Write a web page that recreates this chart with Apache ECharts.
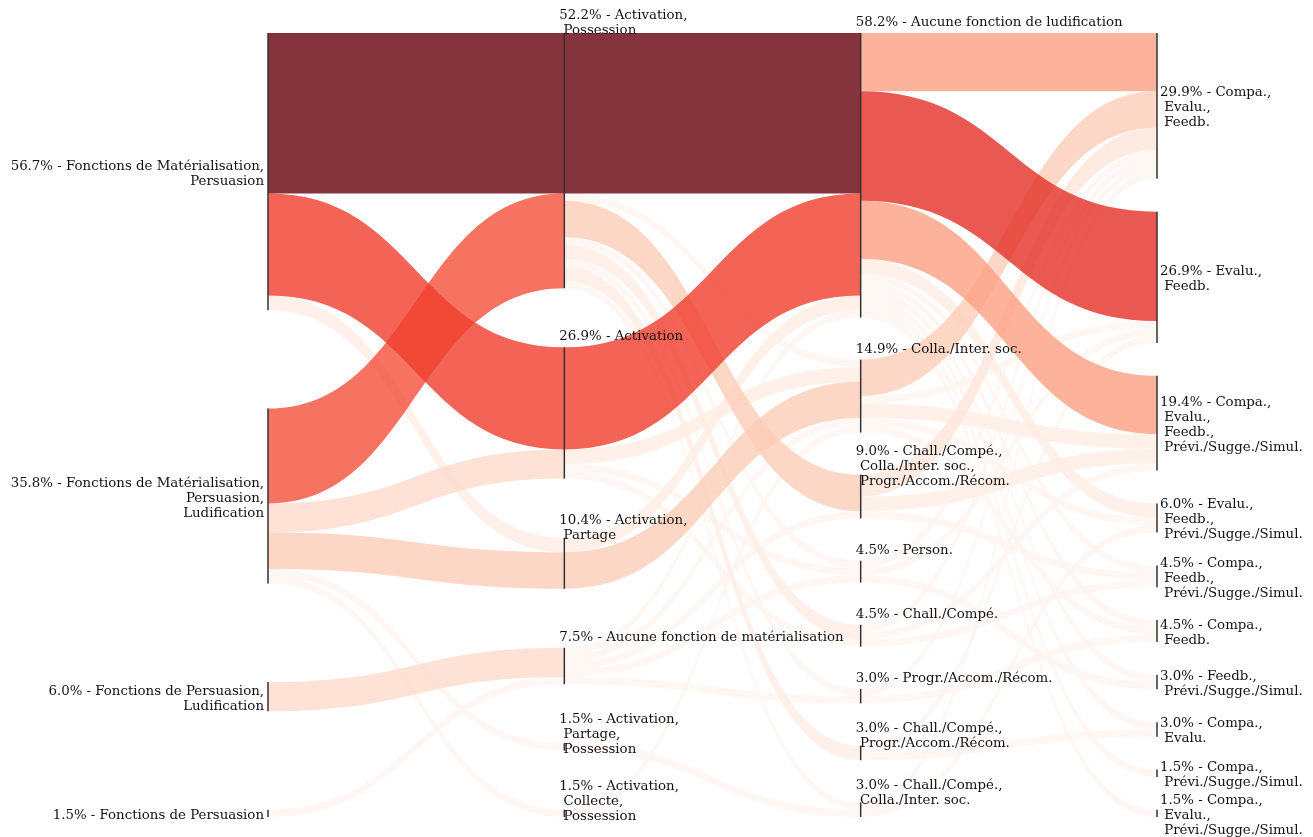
<!DOCTYPE html>
<html><head><meta charset="utf-8">
<script src="https://cdn.jsdelivr.net/npm/echarts@6.0.0/dist/echarts.min.js"></script>
<style>html,body{margin:0;padding:0;background:#fff}#chart{width:1313px;height:837px}</style>
</head><body><div id="chart"></div>
<script>
// ---- categories of the four dimensions ----
const dim1Categories = ['Fonctions de Matérialisation,\nPersuasion', 'Fonctions de Matérialisation,\nPersuasion,\nLudification', 'Fonctions de Persuasion,\nLudification', 'Fonctions de Persuasion'];
const dim2Categories = ['Activation,\n Possession', 'Activation', 'Activation,\n Partage', 'Aucune fonction de matérialisation', 'Activation,\n Partage,\n Possession', 'Activation,\n Collecte,\n Possession'];
const dim3Categories = ['Aucune fonction de ludification', 'Colla./Inter. soc.', 'Chall./Compé.,\n Colla./Inter. soc.,\n Progr./Accom./Récom.', 'Person.', 'Chall./Compé.', 'Progr./Accom./Récom.', 'Chall./Compé.,\n Progr./Accom./Récom.', 'Chall./Compé.,\n Colla./Inter. soc.'];
const dim4Categories = ['Compa.,\n Evalu.,\n Feedb.', 'Evalu.,\n Feedb.', 'Compa.,\n Evalu.,\n Feedb.,\n Prévi./Sugge./Simul.', 'Evalu.,\n Feedb.,\n Prévi./Sugge./Simul.', 'Compa.,\n Feedb.,\n Prévi./Sugge./Simul.', 'Compa.,\n Feedb.', 'Feedb.,\n Prévi./Sugge./Simul.', 'Compa.,\n Evalu.', 'Compa.,\n Prévi./Sugge./Simul.', 'Compa.,\n Evalu.,\n Prévi./Sugge./Simul.'];

// ---- flows between neighbouring dimensions: [source category, target category, count] ----
const links12 = [[0,0,22],[0,1,14],[0,2,2],[1,0,13],[1,1,4],[1,2,5],[1,4,1],[1,5,1],[2,3,4],[3,3,1]];
const links23 = [[0,0,22],[1,0,14],[2,0,2],[3,0,1],[0,1,1],[0,2,5],[0,3,1],[0,4,2],[0,5,1],[0,6,2],[0,7,1],[1,1,2],[1,3,1],[1,4,1],[2,1,5],[3,1,1],[3,2,1],[3,3,1],[3,5,1],[4,7,1],[5,1,1]];
const links34 = [[0,0,8],[0,1,15],[0,2,8],[0,3,2],[0,4,1],[0,5,1],[0,6,1],[0,7,1],[0,8,1],[0,9,1],[1,0,5],[1,1,1],[1,2,2],[1,3,1],[1,5,1],[2,0,3],[2,2,2],[2,4,1],[3,0,1],[3,1,1],[3,6,1],[4,0,1],[4,2,1],[4,4,1],[5,0,1],[5,5,1],[6,1,1],[6,7,1],[7,0,1],[7,3,1]];

const dims = [dim1Categories, dim2Categories, dim3Categories, dim4Categories];
const segments = [links12, links23, links34];
const GAP_TOTAL = 40.5; // total gap between categories of one dimension (in count units)

// node totals
const totals = dims.map((cats, d) => cats.map((_, i) => {
  let s = 0;
  if (d < 3) segments[d].forEach(l => { if (l[0] === i) s += l[2]; });
  else segments[2].forEach(l => { if (l[1] === i) s += l[2]; });
  return s;
}));
const TOTAL = totals[0].reduce((a, b) => a + b, 0);
// node tops (in count units)
const tops = totals.map(t => {
  const gap = GAP_TOTAL / (t.length - 1);
  let acc = 0;
  return t.map((v, i) => { const y = acc + i * gap; acc += v; return y; });
});

// link geometry
const linkGeo = [];
segments.forEach((links, s) => {
  const srcOff = tops[s].slice(), tgtOff = tops[s + 1].slice();
  const bySrc = links.map((l, k) => k).sort((a, b) => links[a][0] - links[b][0] || links[a][1] - links[b][1]);
  const sy = {}, ty = {};
  bySrc.forEach(k => { const l = links[k]; sy[k] = srcOff[l[0]]; srcOff[l[0]] += l[2]; });
  const byTgt = links.map((l, k) => k).sort((a, b) => links[a][1] - links[b][1] || links[a][0] - links[b][0]);
  byTgt.forEach(k => { const l = links[k]; ty[k] = tgtOff[l[1]]; tgtOff[l[1]] += l[2]; });
  links.forEach((l, k) => linkGeo.push({ s: s, sy: sy[k], ty: ty[k], w: l[2] }));
});
linkGeo.sort((a, b) => a.w - b.w);
const maxCount = Math.max(...linkGeo.map(g => g.w));

const REDS = [[255,245,240],[254,224,210],[252,187,161],[252,146,114],[251,106,74],[239,59,44],[203,24,29],[165,15,21],[103,0,13]];
function reds(v) {
  const t = (v - 1) / (maxCount - 1);
  const p = t * (REDS.length - 1);
  const i = Math.min(Math.floor(p), REDS.length - 2);
  const f = p - i;
  const c = REDS[i].map((x, j) => Math.round(x + (REDS[i + 1][j] - x) * f));
  return 'rgb(' + c.join(',') + ')';
}

const linkData = linkGeo.map((g, k) => [g.s + 0.5, g.sy, k]);
const nodeData = [];
dims.forEach((cats, d) => cats.forEach((_, i) => nodeData.push([d, tops[d][i], d, i])));

const FONT = '13.35px "DejaVu Serif", serif';

const chart = echarts.init(document.getElementById('chart'));
chart.setOption({
  animation: false,
  backgroundColor: '#fff',
  grid: { left: 268, right: 156, top: 33, bottom: 20 },
  xAxis: { type: 'value', min: 0, max: 3, show: false },
  yAxis: { type: 'value', min: 0, max: TOTAL + GAP_TOTAL, inverse: true, show: false },
  series: [
    {
      type: 'custom', coordinateSystem: 'cartesian2d', clip: false, silent: true, z: 1,
      data: linkData,
      renderItem: function (params, api) {
        const g = linkGeo[api.value(2)];
        const a0 = api.coord([g.s, g.sy]), a1 = api.coord([g.s, g.sy + g.w]);
        const b0 = api.coord([g.s + 1, g.ty]), b1 = api.coord([g.s + 1, g.ty + g.w]);
        const mx = (a0[0] + b0[0]) / 2;
        const d = 'M' + a0[0] + ',' + a0[1] + ' C' + mx + ',' + a0[1] + ' ' + mx + ',' + b0[1] + ' ' + b0[0] + ',' + b0[1] +
          ' L' + b1[0] + ',' + b1[1] + ' C' + mx + ',' + b1[1] + ' ' + mx + ',' + a1[1] + ' ' + a1[0] + ',' + a1[1] + ' Z';
        return { type: 'path', shape: { pathData: d }, style: { fill: reds(g.w), opacity: 0.8 } };
      }
    },
    {
      type: 'custom', coordinateSystem: 'cartesian2d', clip: false, silent: true, z: 2,
      data: nodeData,
      renderItem: function (params, api) {
        const d = api.value(2), i = api.value(3);
        const v = totals[d][i];
        const p0 = api.coord([d, tops[d][i]]), p1 = api.coord([d, tops[d][i] + v]);
        const pct = (v / TOTAL * 100).toFixed(1) + '% - ';
        const text = pct + dims[d][i];
        const n = text.split('\n').length;
        let tx, ty, align;
        if (d === 0) { tx = p0[0] - 4; ty = (p0[1] + p1[1]) / 2 + 2; align = 'right'; }
        else if (d === 3) { tx = p0[0] + 3; ty = (p0[1] + p1[1]) / 2 + 2; align = 'left'; }
        else { tx = p0[0] - 5; ty = p0[1] - 10.5 + (n - 1) * 1; align = 'left'; }
        return {
          type: 'group',
          children: [
            { type: 'rect', shape: { x: p0[0] - 0.75, y: p0[1], width: 1.5, height: p1[1] - p0[1] }, style: { fill: '#333' } },
            { type: 'text', style: { text: text, x: tx, y: ty, align: align, verticalAlign: 'middle', font: FONT, lineHeight: 15, fill: '#111' } }
          ]
        };
      }
    }
  ]
});
</script>
</body></html>
